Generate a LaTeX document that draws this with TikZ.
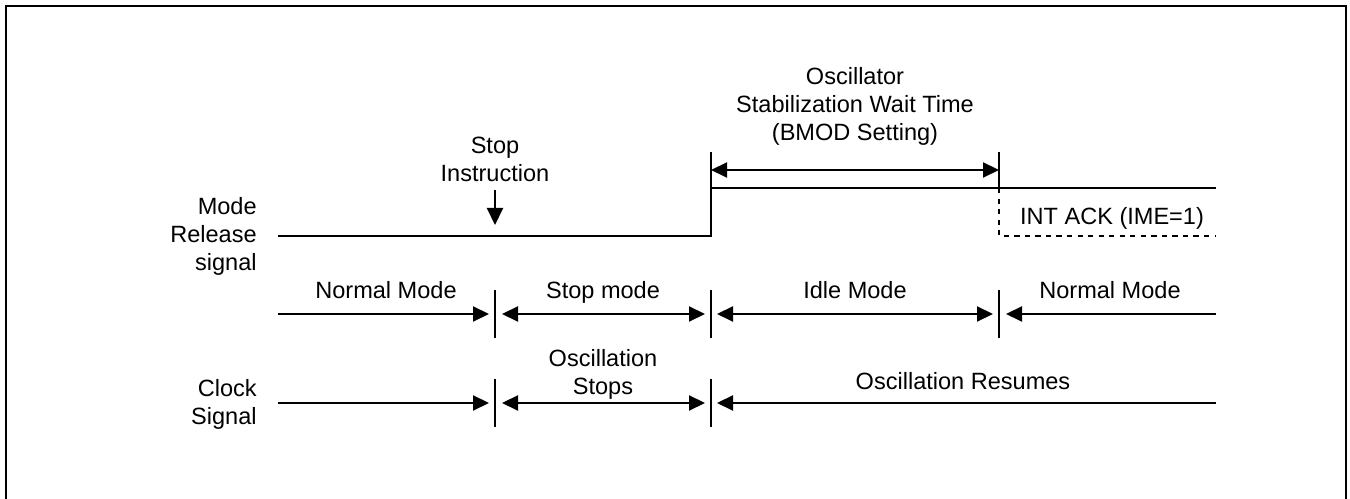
\documentclass[tikz,border=0pt]{standalone}
\usepackage{fontspec}
\setmainfont{Liberation Sans}
\usetikzlibrary{arrows.meta}
\tikzset{
  sigline/.style={line width=1.2pt},
  tickline/.style={line width=0.9pt},
  spanarrow/.style={line width=1.2pt},
  lbl/.style={font=\fontsize{13.4}{15.9}\selectfont, inner sep=0pt, align=center},
}
\begin{document}
\begin{tikzpicture}[x=0.02cm, y=-0.02cm, >={Triangle[length=0.32cm,width=0.3cm]}]
  \useasboundingbox (0,0) rectangle (1350,499);
  \draw[line width=1.4pt] (6,499) -- (6,6) -- (1346,6) -- (1346,499);
  % signal names
  \node[lbl, align=right, anchor=east] (release) at (257,236) {Mode\\Release\\signal};
  \node[lbl, align=right, anchor=east] (clock) at (257,404) {Clock\\Signal};
  % mode release signal
  \draw[sigline] (278,236) -- (711,236) -- (711,188) -- (1216,188);
  \draw[tickline] (711,152) -- (711,188);
  \draw[tickline] (999,152) -- (999,188);
  \draw[sigline, dashed] (999,188) -- (999,236) -- (1216,236);
  \draw[spanarrow, <->] (711,170) -- (999,170);
  \node[lbl, anchor=south] (stabwait) at (855,146) {Oscillator\\Stabilization Wait Time\\(BMOD Setting)};
  \node[lbl, anchor=south] (stopinstr) at (495,182) {Stop\\Instruction};
  \draw[spanarrow, -{Triangle[length=0.34cm,width=0.32cm]}] (495,190) -- (495,225);
  \node[lbl, anchor=base] (intack) at (1112,225) {INT ACK (IME=1)};
  % mode row
  \foreach \x in {495,711,999}
    \draw[tickline] (\x,290) -- (\x,338);
  \draw[spanarrow, ->] (278,314) -- (489,314);
  \draw[spanarrow, <->] (502,314) -- (705,314);
  \draw[spanarrow, <->] (717,314) -- (993,314);
  \draw[spanarrow, <-] (1006,314) -- (1216,314);
  \node[lbl, anchor=base] (normal1) at (386,299) {Normal Mode};
  \node[lbl, anchor=base] (stopmode) at (603,299) {Stop mode};
  \node[lbl, anchor=base] (idlemode) at (855,299) {Idle Mode};
  \node[lbl, anchor=base] (normal2) at (1110,299) {Normal Mode};
  % clock row
  \foreach \x in {495,711}
    \draw[tickline] (\x,379) -- (\x,427);
  \draw[spanarrow, ->] (278,403) -- (489,403);
  \draw[spanarrow, <->] (502,403) -- (705,403);
  \draw[spanarrow, <-] (717,403) -- (1216,403);
  \node[lbl, anchor=south] (oscstops) at (603,400) {Oscillation\\Stops};
  \node[lbl, anchor=base] (oscresume) at (963,390) {Oscillation Resumes};
\end{tikzpicture}
\end{document}
